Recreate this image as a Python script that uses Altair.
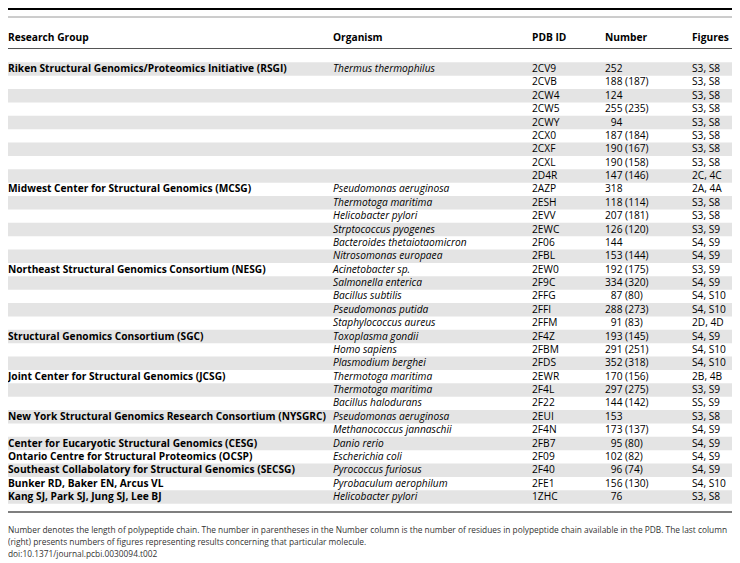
import altair as alt
import pandas as pd

groups = [
    "Riken Structural Genomics/Proteomics Initiative (RSGI)", "", "", "", "", "", "", "", "",
    "Midwest Center for Structural Genomics (MCSG)", "", "", "", "", "",
    "Northeast Structural Genomics Consortium (NESG)", "", "", "", "",
    "Structural Genomics Consortium (SGC)", "", "",
    "Joint Center for Structural Genomics (JCSG)", "", "",
    "New York Structural Genomics Research Consortium (NYSGRC)", "",
    "Center for Eucaryotic Structural Genomics (CESG)",
    "Ontario Centre for Structural Proteomics (OCSP)",
    "Southeast Collabolatory for Structural Genomics (SECSG)",
    "Bunker RD, Baker EN, Arcus VL",
    "Kang SJ, Park SJ, Jung SJ, Lee BJ",
]
organisms = [
    "Thermus thermophilus", "", "", "", "", "", "", "", "",
    "Pseudomonas aeruginosa", "Thermotoga maritima", "Helicobacter pylori",
    "Strptococcus pyogenes", "Bacteroides thetaiotaomicron", "Nitrosomonas europaea",
    "Acinetobacter sp.", "Salmonella enterica", "Bacillus subtilis",
    "Pseudomonas putida", "Staphylococcus aureus",
    "Toxoplasma gondii", "Homo sapiens", "Plasmodium berghei",
    "Thermotoga maritima", "Thermotoga maritima", "Bacillus halodurans",
    "Pseudomonas aeruginosa", "Methanococcus jannaschii",
    "Danio rerio", "Escherichia coli", "Pyrococcus furiosus",
    "Pyrobaculum aerophilum", "Helicobacter pylori",
]
pdb_ids = [
    "2CV9", "2CVB", "2CW4", "2CW5", "2CWY", "2CX0", "2CXF", "2CXL", "2D4R",
    "2AZP", "2ESH", "2EVV", "2EWC", "2F06", "2FBL",
    "2EW0", "2F9C", "2FFG", "2FFI", "2FFM",
    "2F4Z", "2FBM", "2FDS",
    "2EWR", "2F4L", "2F22",
    "2EUI", "2F4N",
    "2FB7", "2F09", "2F40", "2FE1", "1ZHC",
]
# a leading space marks a two-digit length (printed indented by one digit)
numbers = [
    "252", "188 (187)", "124", "255 (235)", " 94", "187 (184)", "190 (167)", "190 (158)", "147 (146)",
    "318", "118 (114)", "207 (181)", "126 (120)", "144", "153 (144)",
    "192 (175)", "334 (320)", " 87 (80)", "288 (273)", " 91 (83)",
    "193 (145)", "291 (251)", "352 (318)",
    "170 (156)", "297 (275)", "144 (142)",
    "153", "173 (137)",
    " 95 (80)", "102 (82)", " 96 (74)", "156 (130)", " 76",
]
figures = [
    "S3, S8", "S3, S8", "S3, S8", "S3, S8", "S3, S8", "S3, S8", "S3, S8", "S3, S8", "2C, 4C",
    "2A, 4A", "S3, S8", "S3, S8", "S3, S9", "S4, S9", "S4, S9",
    "S3, S9", "S4, S9", "S4, S10", "S4, S10", "2D, 4D",
    "S4, S9", "S4, S10", "S4, S10",
    "2B, 4B", "S3, S9", "SS, S9",
    "S3, S8", "S4, S9",
    "S4, S9", "S4, S9", "S4, S9", "S4, S10", "S3, S8",
]
headers = ["Research Group", "Organism", "PDB ID", "Number", "Figures"]
footnotes = [
    "Number denotes the length of polypeptide chain. The number in parentheses in the Number column is the number of residues in polypeptide chain available in the PDB. The last column",
    "(right) presents numbers of figures representing results concerning that particular molecule.",
    "doi:10.1371/journal.pcbi.0030094.t002",
]

# ---- layout ----
W, H = 724, 551
ROW_H = 13.375
FIRST_ROW_Y = 61.0
FONT = "Open Sans"
FSIZE = 10.2
DIGIT_W = 5.8
COL_X = [0, 325, 524, 597, 684]
COL_FIELDS = ["group", "organism", "pdb", "number", "figures"]

df = pd.DataFrame({
    "row": list(range(len(pdb_ids))),
    "group": groups,
    "organism": organisms,
    "pdb": pdb_ids,
    "number": numbers,
    "figures": figures,
})

y0 = -FIRST_ROW_Y / ROW_H
y1 = y0 + H / ROW_H
yscale = alt.Scale(domain=[y0, y1], reverse=True, nice=False, zero=False)

base = alt.Chart(df)

bands = base.transform_filter("datum.row % 2 == 0").transform_calculate(
    lo="datum.row - 0.5", hi="datum.row + 0.5"
).mark_rect(color="#e4e4e4").encode(
    x=alt.value(0), x2=alt.value(W),
    y=alt.Y("lo:Q", scale=yscale, axis=None), y2="hi:Q",
)

layers = [bands]

one = pd.DataFrame({"k": [0]})


def text_layer(src, field, xpos, **style):
    return src.mark_text(align="left", baseline="middle", font=FONT, fontSize=FSIZE,
                         color="#000000", **style).encode(
        x=alt.value(xpos),
        y=alt.Y("row:Q", scale=yscale, axis=None),
        text=alt.Text(f"{field}:N"),
    )


for k, (field, xpos) in enumerate(zip(COL_FIELDS, COL_X)):
    if field == "group":
        layers.append(text_layer(base, field, xpos, fontWeight="bold"))
    elif field == "organism":
        layers.append(text_layer(base, field, xpos, fontStyle="italic"))
    elif field == "number":
        plain = base.transform_filter("slice(datum.number, 0, 1) != ' '")
        indented = base.transform_filter("slice(datum.number, 0, 1) == ' '").transform_calculate(
            ntrim="trim(datum.number)")
        layers.append(text_layer(plain, "number", xpos))
        layers.append(text_layer(indented, "ntrim", xpos + DIGIT_W))
    else:
        layers.append(text_layer(base, field, xpos))
    layers.append(
        alt.Chart(one).mark_text(align="left", baseline="middle", font=FONT, fontSize=FSIZE,
                                 fontWeight="bold", color="#000000", text=headers[k]).encode(
            x=alt.value(xpos), y=alt.value(30),
        )
    )


def rule(ypix, color, width):
    return alt.Chart(one).mark_rule(color=color, strokeWidth=width).encode(
        x=alt.value(0), x2=alt.value(W), y=alt.value(ypix)
    )


layers += [
    rule(1, "#000000", 2),
    rule(9, "#9a9a9a", 1),
    rule(40.5, "#555555", 1),
    rule(504, "#555555", 1.5),
]

for line, ypix in zip(footnotes, [522, 534, 546]):
    layers.append(
        alt.Chart(one).mark_text(align="left", baseline="middle", font=FONT, fontSize=8.35,
                                 color="#333333", text=line).encode(
            x=alt.value(0), y=alt.value(ypix),
        )
    )

chart = alt.layer(*layers).properties(
    width=W, height=H, padding=0,
    autosize=alt.AutoSizeParams(type="none"),
).configure_view(stroke=None)

chart.save("out.html", embed_options={"renderer": "svg", "actions": False})
